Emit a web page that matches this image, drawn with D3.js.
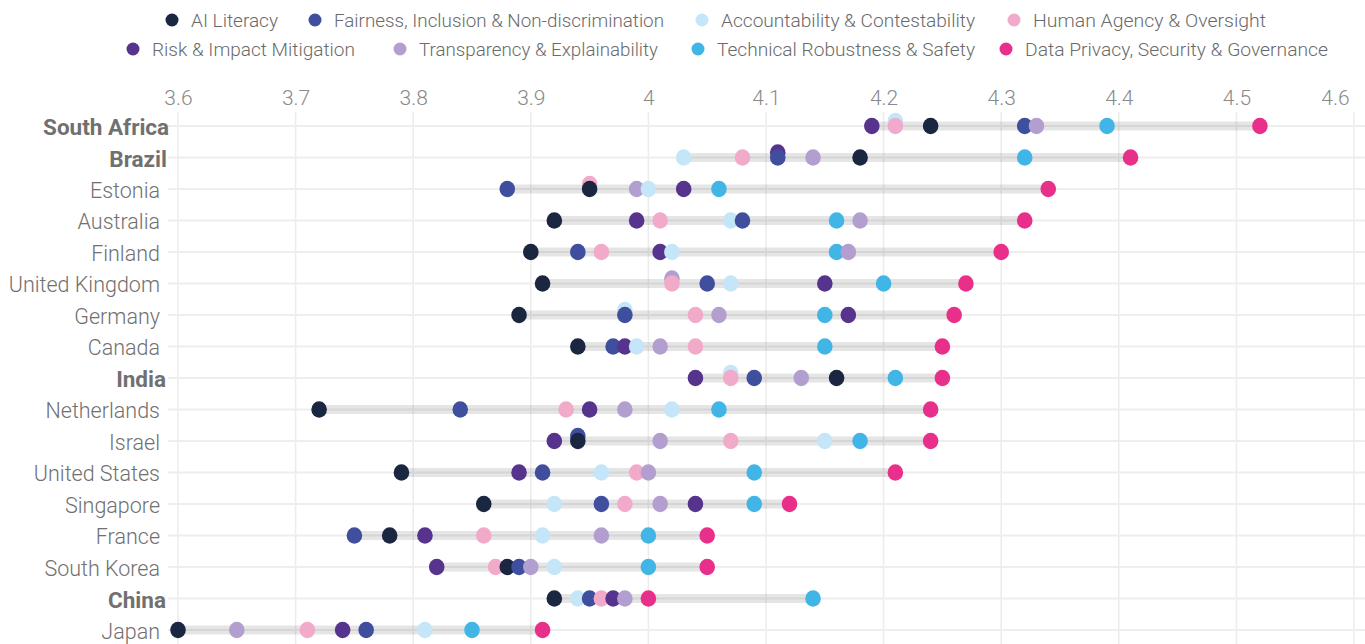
<!DOCTYPE html>
<html>
<head>
<meta charset="utf-8">
<script src="https://cdn.jsdelivr.net/npm/d3@7"></script>
<style>
  html, body { margin: 0; padding: 0; background: #ffffff; }
  svg { display: block; font-family: Roboto, "Open Sans", sans-serif; }
</style>
</head>
<body>
<svg id="chart" width="1365" height="644"></svg>
<script>
// Countries, top to bottom
const countries = ["South Africa", "Brazil", "Estonia", "Australia", "Finland", "United Kingdom",
  "Germany", "Canada", "India", "Netherlands", "Israel", "United States", "Singapore",
  "France", "South Korea", "China", "Japan"];
const boldCountries = ["South Africa", "Brazil", "India", "China"];

// Dimensions (legend order)
const dimensions = ["AI Literacy", "Fairness, Inclusion & Non-discrimination",
  "Accountability & Contestability", "Human Agency & Oversight",
  "Risk & Impact Mitigation", "Transparency & Explainability",
  "Technical Robustness & Safety", "Data Privacy, Security & Governance"];
const dimColors = ["#1b2640", "#3f4f9e", "#c4e6f8", "#f2aacb", "#56338c", "#b39fcf", "#41b6e6", "#e8308a"];
// Stacking rank used when two scores are equal (lower rank is drawn first, underneath)
const tieRank = [7, 6, 1, 5, 2, 0, 3, 4];

// Scores per dimension, one value per country (same order as countries)
const aiLiteracy     = [4.24, 4.18, 3.95, 3.92, 3.90, 3.91, 3.89, 3.94, 4.16, 3.72, 3.94, 3.79, 3.86, 3.78, 3.88, 3.92, 3.60];
const fairness       = [4.32, 4.11, 3.88, 4.08, 3.94, 4.05, 3.98, 3.97, 4.09, 3.84, 3.94, 3.91, 3.96, 3.75, 3.89, 3.95, 3.76];
const accountability = [4.21, 4.03, 4.00, 4.07, 4.02, 4.07, 3.98, 3.99, 4.07, 4.02, 4.15, 3.96, 3.92, 3.91, 3.92, 3.94, 3.81];
const humanAgency    = [4.21, 4.08, 3.95, 4.01, 3.96, 4.02, 4.04, 4.04, 4.07, 3.93, 4.07, 3.99, 3.98, 3.86, 3.87, 3.96, 3.71];
const riskMitigation = [4.19, 4.11, 4.03, 3.99, 4.01, 4.15, 4.17, 3.98, 4.04, 3.95, 3.92, 3.89, 4.04, 3.81, 3.82, 3.97, 3.74];
const transparency   = [4.33, 4.14, 3.99, 4.18, 4.17, 4.02, 4.06, 4.01, 4.13, 3.98, 4.01, 4.00, 4.01, 3.96, 3.90, 3.98, 3.65];
const robustness     = [4.39, 4.32, 4.06, 4.16, 4.16, 4.20, 4.15, 4.15, 4.21, 4.06, 4.18, 4.09, 4.09, 4.00, 4.00, 4.14, 3.85];
const dataPrivacy    = [4.52, 4.41, 4.34, 4.32, 4.30, 4.27, 4.26, 4.25, 4.25, 4.24, 4.24, 4.21, 4.12, 4.05, 4.05, 4.00, 3.91];
const seriesValues = [aiLiteracy, fairness, accountability, humanAgency, riskMitigation, transparency, robustness, dataPrivacy];

// Axis ticks
const xTicks = [3.6, 3.7, 3.8, 3.9, 4.0, 4.1, 4.2, 4.3, 4.4, 4.5, 4.6];

const svg = d3.select("#chart");
const W = 1365, H = 644;

const x = d3.scaleLinear().domain([3.6, 4.6]).range([178, 1354]);
const y = d3.scalePoint().domain(countries).range([126, 630]);
const color = d3.scaleOrdinal().domain(dimensions).range(dimColors);

// Vertical grid
const grid = svg.append("g");
grid.selectAll("line.v").data(xTicks).join("line")
  .attr("x1", d => x(d)).attr("x2", d => x(d))
  .attr("y1", 112).attr("y2", H)
  .attr("stroke", "#ececec").attr("stroke-width", 1.5);

// Horizontal grid per country
grid.selectAll("line.h").data(countries).join("line")
  .attr("x1", 168).attr("x2", W)
  .attr("y1", d => y(d)).attr("y2", d => y(d))
  .attr("stroke", "#eeeeee").attr("stroke-width", 2);

// Top axis labels
const axis = d3.axisTop(x).tickValues(xTicks).tickSize(0).tickPadding(0)
  .tickFormat(d => String(+d.toFixed(1)));
const axG = svg.append("g").attr("transform", "translate(0,105)").call(axis);
axG.select(".domain").remove();
axG.selectAll("text")
  .attr("font-family", "Roboto, sans-serif")
  .attr("font-weight", 300)
  .attr("font-size", 21)
  .attr("fill", "#8a8a8a");
// keep the last label inside the frame
axG.selectAll(".tick").filter(d => d === 4.6).select("text").attr("dx", -19);

// Country rows
const rows = countries.map((c, i) => {
  const pts = dimensions.map((dim, k) => ({ country: c, dim, k, value: seriesValues[k][i] }));
  return { country: c, pts };
});

// Range bars
svg.append("g").selectAll("line").data(rows).join("line")
  .attr("x1", r => x(d3.min(r.pts, p => p.value)))
  .attr("x2", r => x(d3.max(r.pts, p => p.value)))
  .attr("y1", r => y(r.country)).attr("y2", r => y(r.country))
  .attr("stroke", "#000").attr("stroke-opacity", 0.1)
  .attr("stroke-width", 9);

// Dots: drawn in ascending order so higher scores sit on top;
// a dot sharing its score with the next one is lifted slightly.
const dotG = svg.append("g");
rows.forEach(r => {
  const sorted = r.pts.slice().sort((a, b) => (a.value - b.value) || (tieRank[a.k] - tieRank[b.k]));
  sorted.forEach((p, j) => {
    const next = sorted[j + 1];
    p.lift = next && Math.abs(next.value - p.value) < 0.005 ? 5 : 0;
  });
  dotG.append("g").selectAll("ellipse").data(sorted).join("ellipse")
    .attr("cx", p => x(p.value))
    .attr("cy", p => y(p.country) - p.lift)
    .attr("rx", 7.8).attr("ry", 8.3)
    .attr("fill", p => color(p.dim));
});

// Country labels
const labelG = svg.append("g");
countries.forEach(c => {
  const t = labelG.append("text")
    .attr("x", 160).attr("y", y(c))
    .attr("dy", "0.4em")
    .attr("text-anchor", "end")
    .attr("font-family", "Roboto, sans-serif")
    .attr("font-weight", 300)
    .attr("font-size", 21.5)
    .attr("fill", "#707070")
    .text(c);
  if (boldCountries.includes(c)) {
    const w = t.node().getComputedTextLength();
    t.attr("text-anchor", "middle").attr("x", 164 - w / 2)
      .attr("font-weight", 700).attr("font-size", 22.5).attr("fill", "#707070");
  }
});

// Legend (two rows)
const legendItems = [
  { i: 0, x: 172, y: 20, w: 87 },  { i: 1, x: 315, y: 20, w: 330 },
  { i: 2, x: 702, y: 20, w: 254 }, { i: 3, x: 1014, y: 20, w: 233 },
  { i: 4, x: 133, y: 49, w: 203 }, { i: 5, x: 400, y: 49, w: 239 },
  { i: 6, x: 698, y: 49, w: 258 }, { i: 7, x: 1006, y: 49, w: 303 }
];
const leg = svg.append("g").selectAll("g").data(legendItems).join("g")
  .attr("transform", d => `translate(${d.x},${d.y})`);
leg.append("circle").attr("r", 6.5).attr("fill", d => dimColors[d.i]);
leg.append("text")
  .attr("x", 19).attr("dy", "0.35em")
  .attr("font-family", "Roboto, sans-serif")
  .attr("font-weight", 300)
  .attr("font-size", 19)
  .attr("fill", "#6a6a6a")
  .attr("textLength", d => d.w)
  .attr("lengthAdjust", "spacingAndGlyphs")
  .text(d => dimensions[d.i]);
</script>
</body>
</html>
